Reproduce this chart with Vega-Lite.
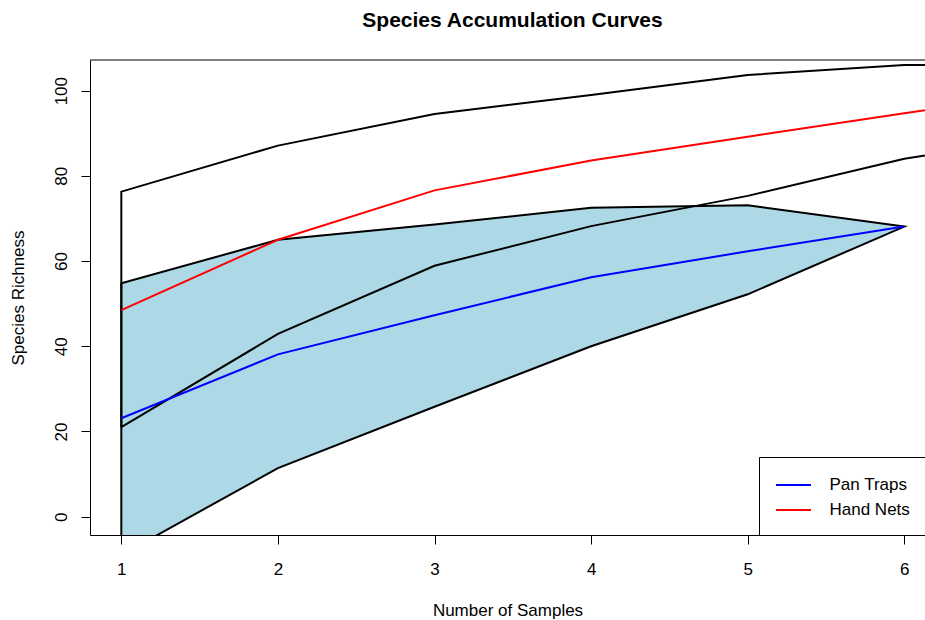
{
  "$schema": "https://vega.github.io/schema/vega-lite/v6.json",
  "width": 835,
  "height": 475,
  "autosize": {"type": "none"},
  "padding": {"left": 90, "top": 60, "right": 0, "bottom": 85},
  "background": "white",
  "config": {
    "font": "Liberation Sans",
    "view": {"stroke": null},
    "axis": {"grid": false, "domainColor": "black", "tickColor": "black", "labelColor": "black", "titleColor": "black", "labelFontSize": 17, "titleFontSize": 17, "titleFontWeight": "normal", "tickSize": 9, "domainWidth": 1, "tickWidth": 1}
  },
  "title": {"text": "Species Accumulation Curves", "fontSize": 21, "fontWeight": "bold", "color": "black", "anchor": "middle", "frame": "group", "baseline": "alphabetic", "offset": 12, "dx": 5},
  "datasets": {
    "band": [
      {"x": 1, "lower": -9.0, "upper": 54.8},
      {"x": 2, "lower": 11.4, "upper": 65.0},
      {"x": 3, "lower": 25.8, "upper": 68.6},
      {"x": 4, "lower": 40.0, "upper": 72.5},
      {"x": 5, "lower": 52.2, "upper": 73.1},
      {"x": 6, "lower": 68.1, "upper": 68.1}
    ],
    "outline": [
      {"grp": "pan", "ord": 1, "x": 1, "y": -9.0},
      {"grp": "pan", "ord": 2, "x": 2, "y": 11.4},
      {"grp": "pan", "ord": 3, "x": 3, "y": 25.8},
      {"grp": "pan", "ord": 4, "x": 4, "y": 40.0},
      {"grp": "pan", "ord": 5, "x": 5, "y": 52.2},
      {"grp": "pan", "ord": 6, "x": 6, "y": 68.1},
      {"grp": "pan", "ord": 7, "x": 5, "y": 73.1},
      {"grp": "pan", "ord": 8, "x": 4, "y": 72.5},
      {"grp": "pan", "ord": 9, "x": 3, "y": 68.6},
      {"grp": "pan", "ord": 10, "x": 2, "y": 65.0},
      {"grp": "pan", "ord": 11, "x": 1, "y": 54.8},
      {"grp": "pan", "ord": 12, "x": 1, "y": -9.0},
      {"grp": "hand", "ord": 1, "x": 1, "y": 21.0},
      {"grp": "hand", "ord": 2, "x": 2, "y": 42.9},
      {"grp": "hand", "ord": 3, "x": 3, "y": 58.9},
      {"grp": "hand", "ord": 4, "x": 4, "y": 68.2},
      {"grp": "hand", "ord": 5, "x": 5, "y": 75.3},
      {"grp": "hand", "ord": 6, "x": 6, "y": 84.0},
      {"grp": "hand", "ord": 7, "x": 7, "y": 90.0},
      {"grp": "hand", "ord": 8, "x": 7, "y": 106.4},
      {"grp": "hand", "ord": 9, "x": 6, "y": 106.0},
      {"grp": "hand", "ord": 10, "x": 5, "y": 103.7},
      {"grp": "hand", "ord": 11, "x": 4, "y": 99.0},
      {"grp": "hand", "ord": 12, "x": 3, "y": 94.5},
      {"grp": "hand", "ord": 13, "x": 2, "y": 87.1},
      {"grp": "hand", "ord": 14, "x": 1, "y": 76.3},
      {"grp": "hand", "ord": 15, "x": 1, "y": 21.0}
    ],
    "curves": [
      {"method": "Pan Traps", "x": 1, "richness": 23.1},
      {"method": "Pan Traps", "x": 2, "richness": 38.1},
      {"method": "Pan Traps", "x": 3, "richness": 47.3},
      {"method": "Pan Traps", "x": 4, "richness": 56.2},
      {"method": "Pan Traps", "x": 5, "richness": 62.3},
      {"method": "Pan Traps", "x": 6, "richness": 68.1},
      {"method": "Hand Nets", "x": 1, "richness": 48.5},
      {"method": "Hand Nets", "x": 2, "richness": 65.0},
      {"method": "Hand Nets", "x": 3, "richness": 76.6},
      {"method": "Hand Nets", "x": 4, "richness": 83.6},
      {"method": "Hand Nets", "x": 5, "richness": 89.2},
      {"method": "Hand Nets", "x": 6, "richness": 94.7},
      {"method": "Hand Nets", "x": 7, "richness": 100.0}
    ]
  },
  "layer": [
    {
      "data": {"name": "band"},
      "mark": {"type": "area", "fill": "#ADD8E6", "clip": true},
      "encoding": {
        "x": {"field": "x", "type": "quantitative", "scale": {"domain": [0.8, 6.132], "nice": false, "zero": false},
              "axis": {"title": "Number of Samples", "values": [1, 2, 3, 4, 5, 6], "format": "d", "labelPadding": 17, "titlePadding": 25}},
        "y": {"field": "lower", "type": "quantitative", "scale": {"domain": [-4.3, 107.2], "nice": false, "zero": false},
              "axis": {"title": "Species Richness", "values": [0, 20, 40, 60, 80, 100], "labelAngle": -90, "labelPadding": 11, "titlePadding": 25}},
        "y2": {"field": "upper"}
      }
    },
    {
      "data": {"name": "outline"},
      "mark": {"type": "line", "color": "black", "strokeWidth": 2, "clip": true},
      "encoding": {
        "x": {"field": "x", "type": "quantitative", "title": "Number of Samples"},
        "y": {"field": "y", "type": "quantitative", "title": "Species Richness"},
        "detail": {"field": "grp"},
        "order": {"field": "ord", "type": "quantitative"}
      }
    },
    {
      "data": {"name": "curves"},
      "mark": {"type": "line", "strokeWidth": 2, "clip": true},
      "encoding": {
        "x": {"field": "x", "type": "quantitative", "title": "Number of Samples"},
        "y": {"field": "richness", "type": "quantitative", "title": "Species Richness"},
        "color": {"field": "method", "type": "nominal",
                  "scale": {"domain": ["Pan Traps", "Hand Nets"], "range": ["#0000FF", "#FF0000"]},
                  "legend": {"orient": "none", "legendX": 669, "legendY": 397, "title": null, "symbolType": "M-1.75,0H1.75", "symbolSize": 400, "symbolStrokeWidth": 2, "symbolOffset": 6.5, "labelFontSize": 17, "labelColor": "black", "labelOffset": 25, "padding": 17, "rowPadding": 6, "strokeColor": "black", "fillColor": "white", "direction": "vertical"}}
      }
    },
    {
      "data": {"values": [{}]},
      "mark": {"type": "rule", "color": "black", "strokeWidth": 1},
      "encoding": {
        "y": {"datum": 107.2, "type": "quantitative", "title": "Species Richness"}
      }
    }
  ]
}
